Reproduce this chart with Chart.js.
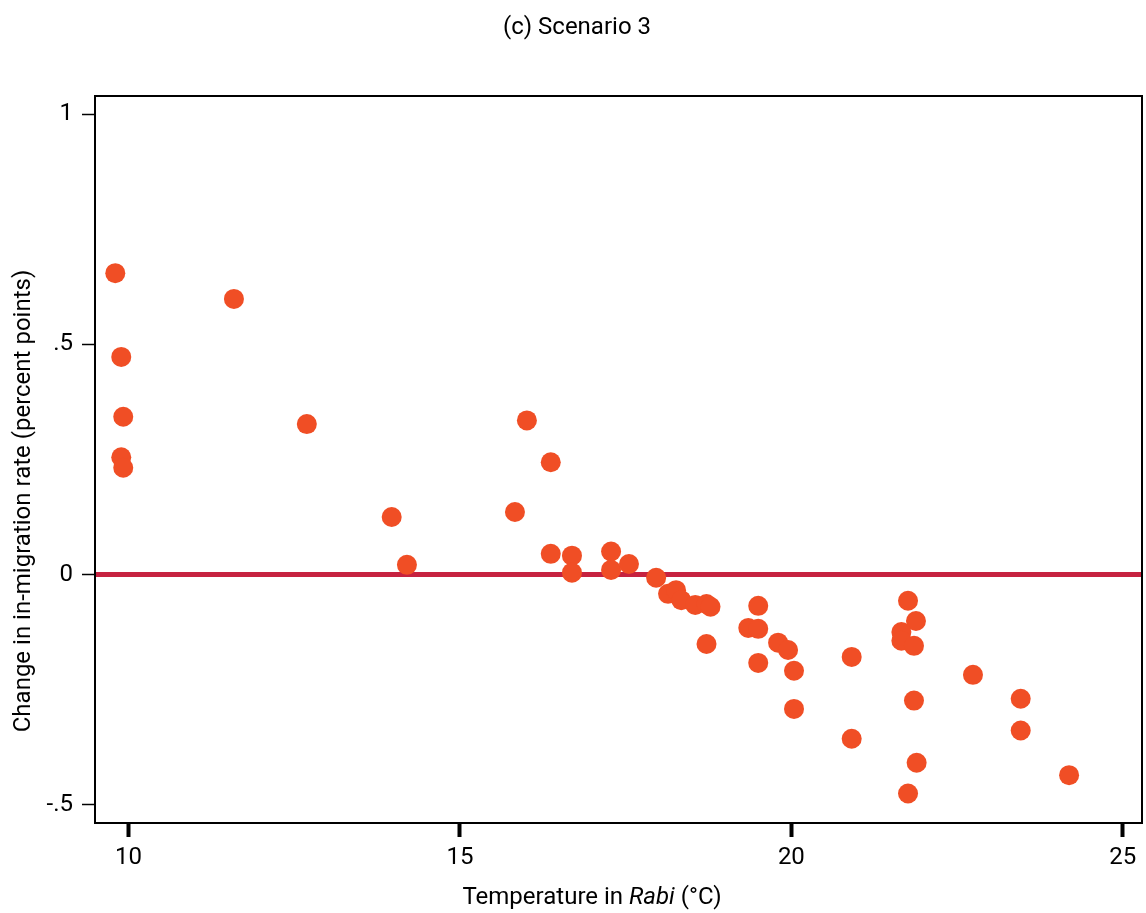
<!DOCTYPE html>
<html><head><meta charset="utf-8">
<script src="https://cdn.jsdelivr.net/npm/chart.js@4"></script>
<style>html,body{margin:0;padding:0;background:#fff}</style>
</head><body>
<canvas id="c" width="1146" height="913"></canvas>
<script>
const titleText = '(c) Scenario 3';
const xTitleParts = ['Temperature in ', 'Rabi', ' (°C)'];
const yTitleText = 'Change in in-migration rate (percent points)';

const temperature = [9.80, 9.89, 9.92, 9.89, 9.92, 11.59, 12.69, 13.97, 14.20, 15.83,
  16.01, 16.37, 16.37, 16.69, 16.69, 17.28, 17.28, 17.55, 17.96, 18.14,
  18.26, 18.34, 18.55, 18.72, 18.78, 18.72, 19.35, 19.50, 19.50, 19.50,
  19.80, 19.95, 20.04, 20.04, 20.91, 20.91, 21.76, 21.88, 21.66, 21.66,
  21.85, 21.85, 21.89, 21.76, 22.74, 23.46, 23.46, 24.19];
const change = [0.655, 0.473, 0.343, 0.255, 0.232, 0.599, 0.327, 0.125, 0.021, 0.136,
  0.335, 0.244, 0.045, 0.041, 0.004, 0.050, 0.010, 0.023, -0.007, -0.042,
  -0.034, -0.056, -0.066, -0.064, -0.070, -0.151, -0.116, -0.068, -0.118, -0.192,
  -0.148, -0.164, -0.209, -0.292, -0.179, -0.357, -0.057, -0.101, -0.125, -0.144,
  -0.155, -0.274, -0.409, -0.476, -0.218, -0.270, -0.339, -0.436];

const xRange = [9.494, 25.29];
const yRange = [-0.540, 1.040];
const xTicks = [10, 15, 20, 25];
const yTicks = [-0.5, 0, 0.5, 1];
const yTickLabels = ['-.5', '0', '.5', '1'];
const zeroLineY = [0, 0];

const FONT = 'Roboto';
const FS = 24;
Chart.defaults.font.family = FONT;
Chart.defaults.font.size = FS;
Chart.defaults.color = '#000';

const points = temperature.map((t, i) => ({x: t, y: change[i]}));
const zeroLine = xRange.map((x, i) => ({x: x, y: zeroLineY[i]}));

const decor = {
  id: 'decor',
  afterDraw(chart) {
    const ctx = chart.ctx, a = chart.chartArea;
    ctx.save();
    ctx.strokeStyle = '#000';
    ctx.lineWidth = 2;
    ctx.strokeRect(a.left, a.top, a.right - a.left, a.bottom - a.top);
    ctx.fillStyle = '#000';
    ctx.textBaseline = 'middle';
    ctx.font = FS + 'px ' + FONT;
    ctx.textAlign = 'center';
    ctx.fillText(titleText, 577, 28);
    const fonts = [FS + 'px ' + FONT, 'italic ' + FS + 'px ' + FONT, FS + 'px ' + FONT];
    const widths = xTitleParts.map((p, i) => { ctx.font = fonts[i]; return ctx.measureText(p).width; });
    const total = widths.reduce((s, w) => s + w, 0);
    let x = 592 - total / 2;
    ctx.textAlign = 'left';
    xTitleParts.forEach((p, i) => { ctx.font = fonts[i]; ctx.fillText(p, x, 898); x += widths[i]; });
    ctx.translate(24, 501);
    ctx.rotate(-Math.PI / 2);
    ctx.font = FS + 'px ' + FONT;
    ctx.textAlign = 'center';
    ctx.fillText(yTitleText, 0, 0);
    ctx.restore();
  }
};

new Chart(document.getElementById('c'), {
  data: {
    datasets: [
      {type: 'scatter', data: points, backgroundColor: '#F04E25', borderWidth: 0,
       pointRadius: 10, pointHoverRadius: 10, order: 1},
      {type: 'line', data: zeroLine, borderColor: '#C62240', borderWidth: 5,
       pointRadius: 0, fill: false, order: 2}
    ]
  },
  options: {
    responsive: false, animation: false, devicePixelRatio: 1,
    layout: {autoPadding: false, padding: {left: 0, right: 4, top: 96, bottom: 0}},
    plugins: {legend: {display: false}, tooltip: {enabled: false}, title: {display: false}},
    scales: {
      x: {
        type: 'linear', min: xRange[0], max: xRange[1],
        afterBuildTicks: s => { s.ticks = xTicks.map(v => ({value: v})); },
        afterFit: s => { s.height = 90; s.paddingLeft = 0; s.paddingRight = 0; },
        border: {display: false},
        grid: {drawOnChartArea: false, drawTicks: true, tickLength: 14, tickWidth: 4, tickColor: '#000'},
        ticks: {padding: 7, maxRotation: 0, callback: v => String(v)}
      },
      y: {
        type: 'linear', min: yRange[0], max: yRange[1],
        afterBuildTicks: s => { s.ticks = yTicks.map(v => ({value: v})); },
        afterFit: s => { s.width = 95; s.paddingTop = 0; s.paddingBottom = 0; },
        border: {display: false},
        grid: {drawOnChartArea: false, drawTicks: true, tickLength: 13, tickWidth: 1.5, tickColor: '#000'},
        ticks: {padding: 9, callback: v => yTickLabels[yTicks.indexOf(v)]}
      }
    }
  },
  plugins: [decor]
});
</script>
</body></html>
